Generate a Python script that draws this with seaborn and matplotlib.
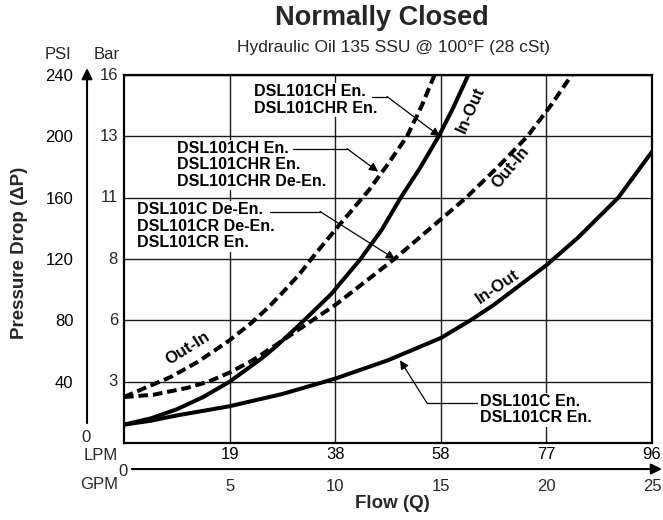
import matplotlib
matplotlib.use("Agg")
import matplotlib.pyplot as plt
import seaborn as sns

sns.set_theme(style="white")
plt.rcParams['font.family'] = ['Liberation Sans', 'DejaVu Sans']

# flow in GPM, pressure drop in PSI
ch_in_out_gpm = [0, 1.25, 2.5, 3.75, 5, 6.5, 7.2, 8.3, 9.8, 11.2, 12.2, 13.1, 14.0, 14.9, 15.6, 16.3]
ch_in_out_psi = [12, 16, 22, 30, 40, 55, 63, 77, 97, 120, 139, 160, 179, 200, 219, 240]

c_in_out_gpm = [0, 1.25, 2.5, 5, 7.5, 10, 12.5, 15, 16.4, 17.5, 20, 21.5, 23.4, 25]
c_in_out_psi = [12, 14.5, 18, 24, 32, 42, 54, 68.5, 80, 90, 116, 134, 160, 190]

ch_out_in_gpm = [0, 1, 2.2, 3.5, 5, 6, 6.8, 7.5, 8.3, 9.1, 10, 10.8, 11.6, 12.5, 13.4, 14.1, 14.7]
ch_out_in_psi = [30, 36, 43, 53, 67, 78, 88, 98, 110, 124, 139, 152, 165, 182, 200, 220, 240]

c_out_in_gpm = [0, 1.4, 3.0, 4, 5, 6.1, 7.2, 8.7, 10, 11.4, 12.8, 14.5, 16.2, 17.7, 19.1, 20.2, 21.2]
c_out_in_psi = [30, 31.5, 36, 40, 46, 54, 64, 78, 90, 105, 120, 140, 160, 180, 200, 220, 240]

psi_ticks = [40, 80, 120, 160, 200, 240]
bar_labels = ["3", "6", "8", "11", "13", "16"]
gpm_ticks = [5, 10, 15, 20, 25]
lpm_labels = ["19", "38", "58", "77", "96"]

fig = plt.figure(figsize=(6.63, 5.20), dpi=100)
ax = fig.add_axes([0.187, 0.148, 0.7964, 0.7077])
ax.set_xlim(0, 25)
ax.set_ylim(0, 240)

# grid + frame
ax.set_xticks(gpm_ticks)
ax.set_yticks(psi_ticks)
ax.grid(True, color="#1a1a1a", linewidth=1.0)
ax.set_axisbelow(True)
for sp in ax.spines.values():
    sp.set_color("black")
    sp.set_linewidth(1.6)
ax.tick_params(axis="both", length=0, labelsize=12, colors="black")
ax.set_yticklabels([str(v) for v in psi_ticks])
ax.tick_params(axis="y", pad=36.5)
ax.set_xticklabels(lpm_labels)
ax.tick_params(axis="x", pad=3)
ax.set_xlabel("")
ax.set_ylabel("")

lw = 2.9
dash = (0, (2.4, 1.2))
sns.lineplot(x=ch_in_out_gpm, y=ch_in_out_psi, ax=ax, color="black", linewidth=lw)
sns.lineplot(x=c_in_out_gpm, y=c_in_out_psi, ax=ax, color="black", linewidth=lw)
sns.lineplot(x=ch_out_in_gpm, y=ch_out_in_psi, ax=ax, color="black", linewidth=lw, linestyle=dash)
sns.lineplot(x=c_out_in_gpm, y=c_out_in_psi, ax=ax, color="black", linewidth=lw, linestyle=dash)

# curve labels
lab = dict(fontsize=12, fontweight="bold", ha="center", va="center", color="black")
ax.text(3.0, 62, "Out-In", rotation=32, **lab)
ax.text(16.4, 217, "In-Out", rotation=66, **lab)
ax.text(18.3, 180, "Out-In", rotation=50, **lab)
ax.text(17.7, 102, "In-Out", rotation=34, **lab)

# callouts
box = dict(facecolor="white", edgecolor="none", pad=1)
note = dict(fontsize=11.5, fontweight="bold", ha="left", va="top", linespacing=1.12, bbox=box, color="black")
arrow = dict(arrowstyle="-|>", color="black", lw=0.9, shrinkA=0, shrinkB=0, mutation_scale=13)

callouts = [
    ("DSL101CH En.\nDSL101CHR En.", (6.16, 234), (11.75, 12.45, 226), (14.96, 200)),
    ("DSL101CH En.\nDSL101CHR En.\nDSL101CHR De-En.", (2.51, 197), (8.0, 10.56, 192), (12.03, 177)),
    ("DSL101C De-En.\nDSL101CR De-En.\nDSL101CR En.", (0.62, 157), (6.9, 9.28, 151), (12.83, 120)),
    ("DSL101C En.\nDSL101CR En.", (16.86, 32), (16.71, 14.35, 26), (13.07, 54)),
]
for txt, pos, (x0, x1, yl), tip in callouts:
    ax.text(pos[0], pos[1], txt, zorder=4, **note)
    ax.plot([x0, x1], [yl, yl], color="black", lw=0.9, zorder=5)
    ax.annotate("", xy=tip, xytext=(x1, yl), arrowprops=arrow, zorder=5)

# axis scales outside the frame
yax = ax.get_yaxis_transform()
xax = ax.get_xaxis_transform()
for v, b in zip(psi_ticks, bar_labels):
    ax.text(-0.0114, v, b, transform=yax, ha="right", va="center", fontsize=12)
ax.text(-0.099, 1.055, "PSI", transform=ax.transAxes, ha="right", va="center", fontsize=12)
ax.text(-0.032, 1.055, "Bar", transform=ax.transAxes, ha="center", va="center", fontsize=12)
ax.text(-0.072, 0.015, "0", transform=ax.transAxes, ha="center", va="center", fontsize=12)
ax.annotate("", xy=(-0.070, 1.019), xytext=(-0.070, 0.054), xycoords="axes fraction",
            arrowprops=dict(arrowstyle="-|>", color="black", lw=1.5, mutation_scale=16, shrinkA=0, shrinkB=0))
ax.annotate("", xy=(1.019, -0.0707), xytext=(0.015, -0.0707), xycoords="axes fraction",
            arrowprops=dict(arrowstyle="-|>", color="black", lw=1.5, mutation_scale=16, shrinkA=0, shrinkB=0))
ax.text(-0.0114, -0.034, "LPM", transform=ax.transAxes, ha="right", va="center", fontsize=12)
ax.text(-0.0114, -0.114, "GPM", transform=ax.transAxes, ha="right", va="center", fontsize=12)
ax.text(-0.002, -0.076, "0", transform=ax.transAxes, ha="center", va="center", fontsize=12)
for g in gpm_ticks:
    ax.text(g, -0.117, str(g), transform=xax, ha="center", va="center", fontsize=12)
ax.text(0.508, -0.165, "Flow (Q)", transform=ax.transAxes, ha="center", va="center",
        fontsize=13.5, fontweight="bold")
fig.text(0.029, 0.514, "Pressure Drop (\u0394P)", rotation=90, ha="center", va="center",
         fontsize=13.5, fontweight="bold")

fig.text(0.576, 0.966, "Normally Closed", ha="center", va="center", fontsize=19.5, fontweight="bold")
fig.text(0.593, 0.909, "Hydraulic Oil 135 SSU @ 100\u00b0F (28 cSt)", ha="center", va="center", fontsize=12.5)

fig.savefig("out.png", dpi=100)
